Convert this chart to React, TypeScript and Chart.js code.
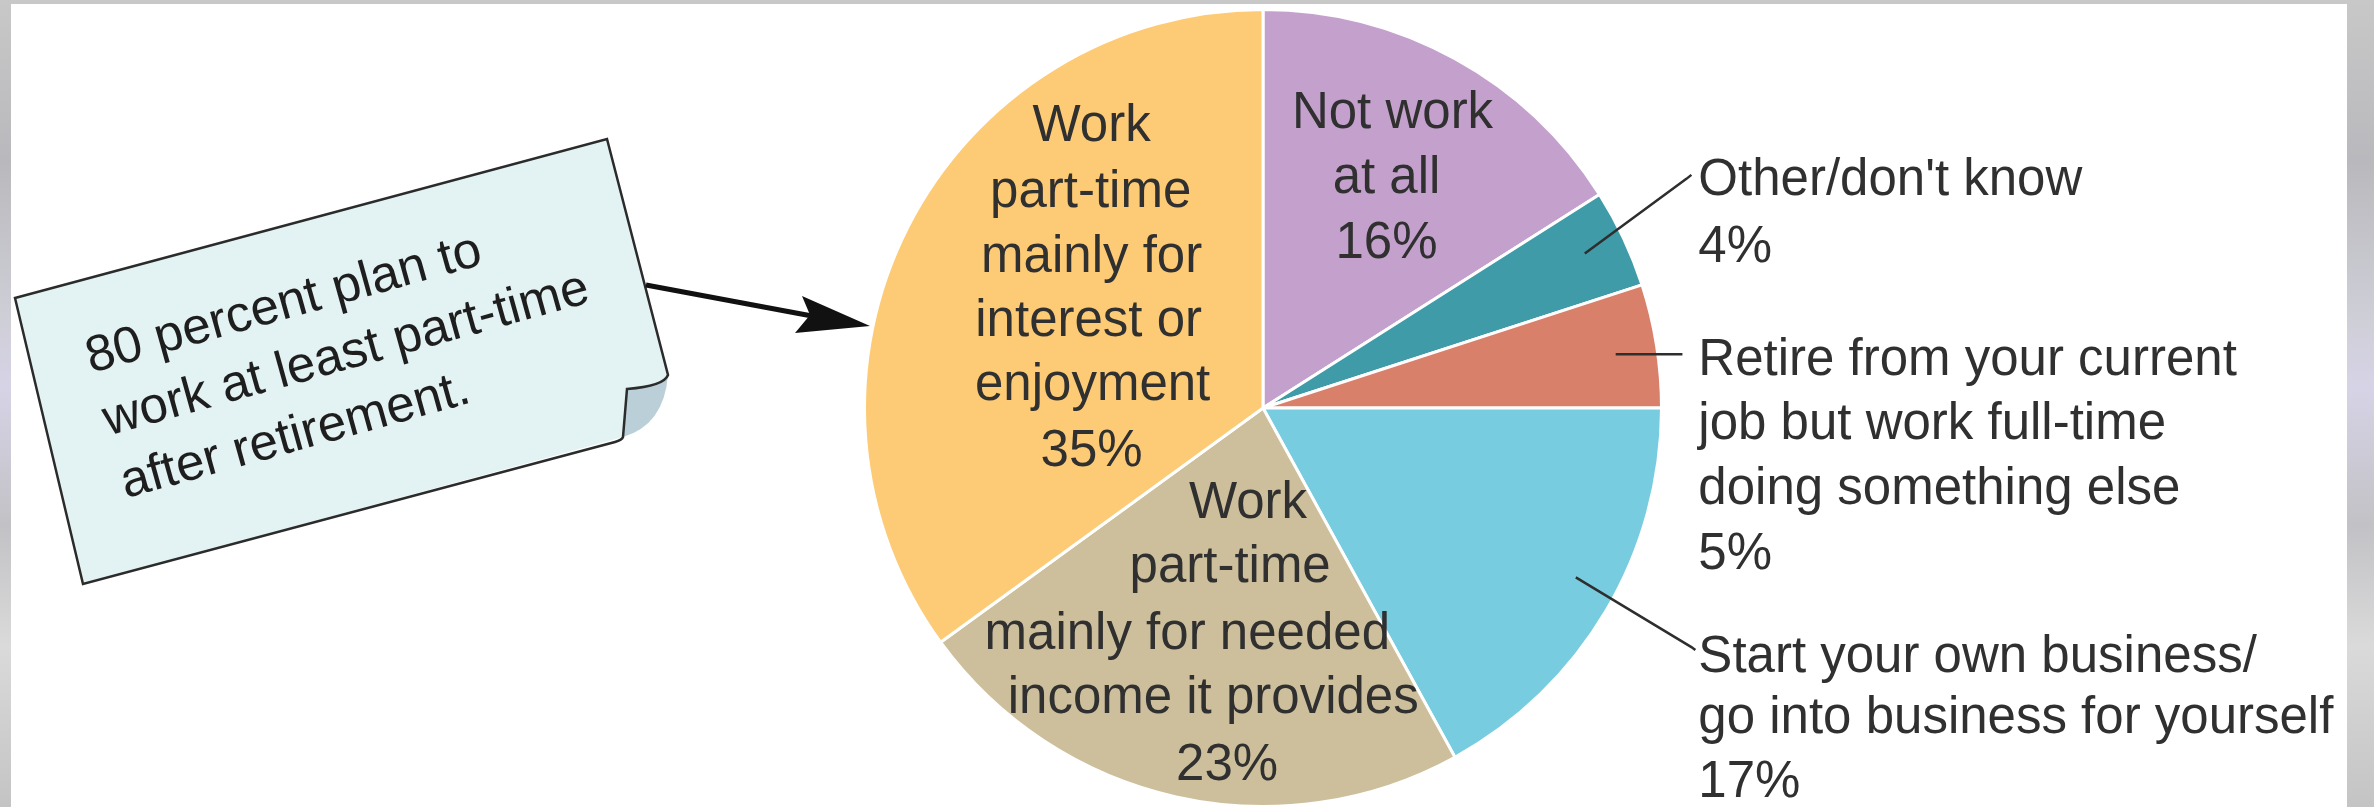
import React, { useEffect, useRef } from "react";
import { Chart, registerables } from "chart.js";

Chart.register(...registerables);

// ---- data ----
const categories = [
  "Not work at all",
  "Other/don't know",
  "Retire from your current job but work full-time doing something else",
  "Start your own business/go into business for yourself",
  "Work part-time mainly for needed income it provides",
  "Work part-time mainly for interest or enjoyment",
];
const shares = [16, 4, 5, 17, 23, 35];
const sliceColors = ["#C4A0CD", "#3F9BA7", "#D9806B", "#78CCE0", "#CEBF9C", "#FDCB75"];

const insideLabelText: (string[] | null)[] = [
  ["Not work", "at all"],
  null,
  null,
  null,
  ["Work", "part-time", "mainly for needed", "income it provides"],
  ["Work", "part-time", "mainly for", "interest or", "enjoyment"],
];
const outsideLabelText: (string[] | null)[] = [
  null,
  ["Other/don't know"],
  ["Retire from your current", "job but work full-time", "doing something else"],
  ["Start your own business/", "go into business for yourself"],
  null,
  null,
];
const calloutLines = ["80 percent plan to", "work at least part-time", "after retirement."];

// ---- layout (offsets from pie centre, in px for a 400px radius) ----
const insideOffsets: ([number, number][] | null)[] = [
  [[130, -295], [124, -230], [124, -165]],
  null,
  null,
  null,
  [[-15, 96], [-33, 161], [-76, 228], [-50, 292], [-36, 359]],
  [[-172, -282], [-173, -216], [-172, -151], [-175, -86], [-171, -22], [-172, 44]],
];
const outsideOffsets: ([number, number][] | null)[] = [
  null,
  [[437, -228], [437, -161]],
  [[437, -47], [437, 17], [437, 82], [437, 147]],
  [[437, 251], [437, 312], [437, 376]],
  null,
  null,
];
const leaderLines: ([number, number][] | null)[] = [
  null,
  [[323, -155], [425, -230], [430, -234]],
  [[354, -54], [421, -54]],
  [[314, 170], [430, 240], [434, 243]],
  null,
  null,
];

const FONT = '51px "Liberation Sans", Arial, Helvetica, sans-serif';
const TEXT_COLOR = "#303030";

const labelPlugin = {
  id: "pieLabels",
  afterDatasetsDraw(chart: any) {
    const ctx: CanvasRenderingContext2D = chart.ctx;
    const meta = chart.getDatasetMeta(0);
    const arc: any = meta.data[0];
    if (!arc) return;
    const cx = arc.x;
    const cy = arc.y;
    const k = arc.outerRadius / 400;
    ctx.save();
    ctx.font = FONT;
    ctx.fillStyle = TEXT_COLOR;
    ctx.textBaseline = "middle";

    // inside labels
    ctx.textAlign = "center";
    insideLabelText.forEach((lines, i) => {
      const offs = insideOffsets[i];
      if (!lines || !offs) return;
      const all = [...lines, `${shares[i]}%`];
      all.forEach((t, j) => {
        const [dx, dy] = offs[j];
        ctx.fillText(t, cx + dx * k, cy + dy * k);
      });
    });

    // outside labels
    ctx.textAlign = "left";
    outsideLabelText.forEach((lines, i) => {
      const offs = outsideOffsets[i];
      if (!lines || !offs) return;
      const all = [...lines, `${shares[i]}%`];
      all.forEach((t, j) => {
        const [dx, dy] = offs[j];
        ctx.fillText(t, cx + dx * k, cy + dy * k);
      });
    });

    // leader lines
    ctx.strokeStyle = "#2e2e2e";
    ctx.lineWidth = 2.5;
    leaderLines.forEach((pts) => {
      if (!pts) return;
      ctx.beginPath();
      pts.forEach(([dx, dy], j) => {
        const x = cx + dx * k;
        const y = cy + dy * k;
        if (j === 0) ctx.moveTo(x, y);
        else ctx.lineTo(x, y);
      });
      ctx.stroke();
    });
    ctx.restore();
  },
  afterDraw(chart: any) {
    const ctx: CanvasRenderingContext2D = chart.ctx;
    ctx.save();
    // callout note
    ctx.beginPath();
    ctx.moveTo(15, 298);
    ctx.lineTo(607, 139);
    ctx.lineTo(668, 375);
    ctx.quadraticCurveTo(664, 386, 627, 389);
    ctx.lineTo(623, 437);
    ctx.lineTo(83, 584);
    ctx.closePath();
    ctx.fillStyle = "#E3F2F2";
    ctx.fill();
    // folded corner
    ctx.beginPath();
    ctx.moveTo(668, 375);
    ctx.quadraticCurveTo(664, 425, 623, 437);
    ctx.lineTo(627, 389);
    ctx.quadraticCurveTo(664, 386, 668, 375);
    ctx.closePath();
    ctx.fillStyle = "#BACFD8";
    ctx.fill();
    // outline
    ctx.beginPath();
    ctx.moveTo(15, 298);
    ctx.lineTo(607, 139);
    ctx.lineTo(668, 375);
    ctx.quadraticCurveTo(664, 386, 627, 389);
    ctx.lineTo(623, 437);
    ctx.quadraticCurveTo(622, 440, 615, 442);
    ctx.lineTo(83, 584);
    ctx.closePath();
    ctx.strokeStyle = "#2b2b2b";
    ctx.lineWidth = 2.5;
    ctx.stroke();

    // callout text
    ctx.translate(91, 373);
    ctx.rotate((-15.5 * Math.PI) / 180);
    ctx.font = FONT;
    ctx.fillStyle = "#1e1e1e";
    ctx.textAlign = "left";
    ctx.textBaseline = "alphabetic";
    calloutLines.forEach((t, j) => ctx.fillText(t, 0, j * 65));
    ctx.setTransform(1, 0, 0, 1, 0, 0);

    // arrow
    ctx.strokeStyle = "#111";
    ctx.fillStyle = "#111";
    ctx.lineWidth = 5;
    ctx.beginPath();
    ctx.moveTo(646, 285);
    ctx.lineTo(812, 316);
    ctx.stroke();
    ctx.beginPath();
    ctx.moveTo(870, 326);
    ctx.lineTo(802, 296);
    ctx.lineTo(810, 315);
    ctx.lineTo(795, 333);
    ctx.closePath();
    ctx.fill();
    ctx.restore();
  },
};

export default function App() {
  const canvasRef = useRef<HTMLCanvasElement | null>(null);

  useEffect(() => {
    if (!canvasRef.current) return;
    const chart = new Chart(canvasRef.current, {
      type: "pie",
      data: {
        labels: categories,
        datasets: [
          {
            data: shares,
            backgroundColor: sliceColors,
            borderColor: "#ffffff",
            borderWidth: 3,
          },
        ],
      },
      options: {
        responsive: false,
        animation: false,
        devicePixelRatio: 1,
        layout: { padding: { left: 863, right: 711, top: 8, bottom: 8 } },
        plugins: {
          legend: { display: false },
          tooltip: { enabled: false },
          title: { display: false },
        },
      },
      plugins: [labelPlugin],
    });
    return () => chart.destroy();
  }, []);

  return (
    <div
      style={{
        position: "fixed",
        left: 0,
        top: 0,
        width: 2374,
        height: 807,
        overflow: "hidden",
        background:
          "linear-gradient(180deg, #c8c8c8 0%, #b9b9bd 20%, #cfcfd8 40%, #d6d3e6 48%, #c2c2c6 65%, #dadada 80%, #c4c4c4 100%)",
      }}
    >
      <div
        style={{
          position: "absolute",
          left: 11,
          top: 4,
          width: 2336,
          height: 820,
          background: "#ffffff",
        }}
      />
      <canvas
        ref={canvasRef}
        width={2374}
        height={816}
        style={{ position: "absolute", left: 0, top: 0, width: 2374, height: 816 }}
      />
    </div>
  );
}
